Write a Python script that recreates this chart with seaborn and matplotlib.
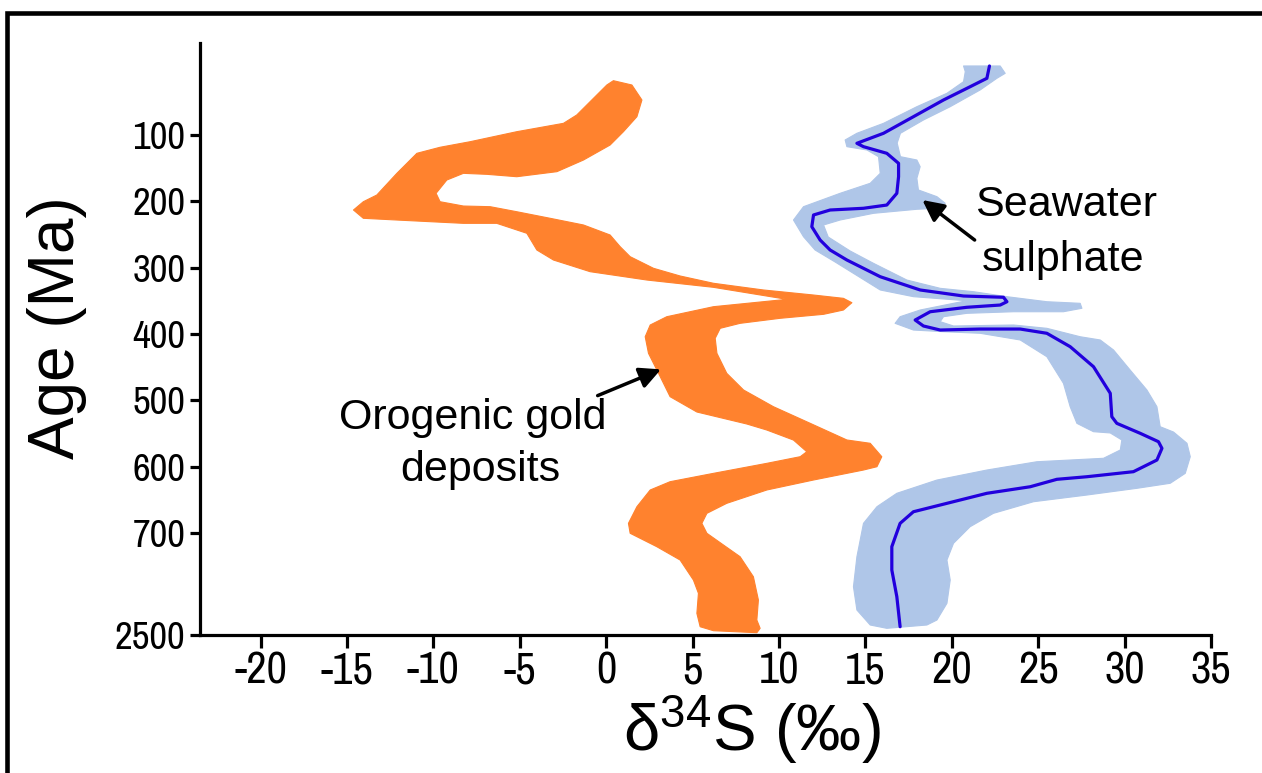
import matplotlib
matplotlib.use("Agg")
import matplotlib.pyplot as plt
from matplotlib.patches import Rectangle, Polygon
from matplotlib import font_manager as fm
import seaborn as sns

# ---------------- data ----------------
# Orogenic gold deposits band outline: (d34S permil, age position)
gold_outline = [
    (0.42, 18.1), (1.49, 24.6), (2.07, 47.2), (1.78, 72.4), (1.00, 95.0), (0.23, 115.1),
    (-1.31, 137.7), (-2.85, 155.3), (-5.17, 162.9), (-6.90, 159.3), (-8.26, 157.8),
    (-9.22, 167.9), (-9.84, 187.9), (-9.61, 200.6), (-8.26, 207.1), (-6.71, 208.1),
    (-5.17, 215.7), (-3.24, 225.6), (-1.31, 235.7), (0.23, 250.8), (0.81, 268.4),
    (1.39, 283.5), (2.74, 301.0), (4.28, 312.6), (6.21, 323.6), (9.10, 333.7),
    (12.00, 341.3), (13.73, 346.3), (14.22, 352.9), (13.73, 363.9), (12.58, 370.4),
    (10.07, 376.4), (7.75, 384.0), (6.60, 391.5), (6.31, 406.6), (6.41, 429.2),
    (6.98, 459.4), (7.95, 484.5), (9.68, 509.7), (11.81, 534.8), (13.93, 559.9),
    (15.28, 564.9), (15.95, 585.1), (15.67, 600.2), (14.89, 605.2), (11.99, 620.3),
    (9.30, 635.3), (6.98, 655.4), (5.83, 670.5), (5.54, 685.6), (5.83, 700.6),
    (6.79, 718.3), (7.75, 735.9), (8.52, 766.1), (8.81, 801.2), (8.72, 831.4),
    (8.91, 843.9), (8.72, 850.5), (6.21, 847.5), (5.44, 841.5),
    (5.25, 821.3), (5.34, 791.1), (5.05, 771.1), (4.28, 740.9), (2.93, 720.8),
    (1.39, 700.6), (1.29, 685.6), (1.78, 660.5), (2.55, 635.3), (3.70, 622.8),
    (6.21, 610.2), (9.30, 595.1), (11.23, 585.1), (11.61, 577.6), (10.84, 560.0),
    (9.30, 544.9), (8.14, 535.8), (5.25, 517.7), (3.70, 494.6), (3.13, 464.5),
    (2.45, 429.2), (2.26, 404.2), (2.55, 386.5), (3.51, 374.0), (6.21, 358.9),
    (10.46, 347.8), (6.21, 329.7), (2.36, 318.7), (-0.93, 306.1), (-3.05, 288.5),
    (-4.01, 273.4), (-4.59, 248.2), (-6.33, 233.2), (-8.26, 233.2), (-10.19, 230.7),
    (-12.11, 228.2), (-14.05, 225.6), (-14.62, 213.1), (-14.05, 200.6), (-13.27, 190.5),
    (-12.11, 157.8), (-10.95, 127.6), (-9.61, 118.5), (-7.87, 110.1), (-5.17, 95.0),
    (-2.47, 82.4), (-1.70, 69.8), (-0.93, 49.8), (0.04, 24.6),
]

# Seawater sulphate uncertainty band outline
sw_band_outline = [
    (20.68, -4.1), (22.80, -4.1), (23.09, 7.0), (22.61, 14.5), (21.64, 32.1), (19.91, 57.3),
    (18.36, 77.4), (17.03, 97.4), (16.84, 112.1), (17.03, 132.7), (17.98, 137.7),
    (18.17, 147.8), (17.98, 165.3), (18.07, 182.9), (19.14, 193.0), (19.62, 203.0),
    (19.14, 210.5), (17.98, 212.0), (15.47, 218.1), (13.54, 228.2), (12.58, 235.7),
    (12.85, 253.8), (14.12, 274.9), (15.47, 293.5), (17.40, 318.7), (19.33, 331.2),
    (21.26, 336.3), (23.19, 343.8), (25.50, 351.4), (27.43, 353.8), (27.53, 361.3),
    (26.46, 366.5), (23.57, 366.5), (20.87, 368.9), (19.52, 374.0), (19.33, 381.5),
    (20.10, 388.0), (23.57, 386.5), (25.50, 391.5), (27.43, 404.2), (28.59, 409.1),
    (29.36, 424.2), (30.32, 454.4), (31.29, 484.5), (31.87, 509.7), (32.06, 539.9),
    (32.83, 547.9), (33.61, 564.9), (33.80, 585.1), (33.51, 610.2), (32.64, 625.2),
    (30.71, 632.8), (27.82, 642.9), (24.73, 653.0), (22.41, 670.5), (21.06, 690.7),
    (20.10, 715.7), (19.72, 740.9), (19.91, 771.1), (19.72, 806.2), (19.14, 831.4),
    (18.56, 838.9), (16.24, 843.9), (15.28, 838.9), (14.51, 816.3), (14.31, 781.2),
    (14.51, 735.9), (14.89, 685.6), (15.67, 660.5), (16.82, 640.3), (19.14, 620.3),
    (22.03, 605.2), (24.92, 592.7), (28.78, 587.5), (29.75, 575.0), (29.84, 559.9),
    (29.17, 549.3), (28.20, 547.4), (27.24, 534.8), (26.85, 509.7), (26.46, 474.4),
    (25.50, 434.3), (23.96, 409.1), (21.64, 399.0), (19.52, 396.6), (17.78, 394.1),
    (16.72, 384.0), (17.01, 374.0), (18.17, 363.9), (20.10, 353.8), (20.87, 349.9),
    (17.78, 343.8), (15.86, 333.7), (13.25, 291.5), (12.09, 273.4), (11.42, 253.4),
    (10.84, 228.2), (11.42, 208.1), (13.54, 187.9), (15.28, 172.8), (15.86, 157.8),
    (15.76, 132.7), (15.09, 122.6), (13.93, 117.6), (13.83, 107.5), (14.51, 97.4),
    (16.05, 82.4), (17.98, 57.3), (19.72, 37.1), (20.68, 19.6), (20.78, 4.5),
]

# Seawater sulphate curve
sw_line_d34s = [22.18, 22.03, 21.06, 19.52, 17.78, 16.05, 14.51, 14.89, 16.24, 16.92,
                16.92, 16.82, 16.24, 14.89, 12.96, 12.00, 11.90, 12.38, 12.96, 13.93,
                15.86, 18.17, 20.68, 22.99, 23.19, 22.80, 20.87, 18.75, 17.88, 18.36,
                19.33, 21.64, 23.96, 25.50, 26.85, 28.20, 29.17, 29.26, 29.55, 30.90,
                31.96, 32.16, 31.87, 30.51, 27.82, 26.08, 24.54, 22.03, 19.72, 17.78,
                17.01, 16.53, 16.53, 16.82, 17.01]
sw_line_age = [-4.1, 14.5, 27.2, 47.2, 72.4, 97.4, 112.5, 117.6, 127.6, 142.7,
               162.9, 187.9, 205.6, 210.5, 213.1, 220.6, 238.3, 258.3, 273.4, 288.5,
               313.7, 333.7, 342.8, 344.7, 351.4, 356.4, 359.8, 366.5, 379.0, 388.0,
               394.1, 392.6, 392.6, 399.0, 419.2, 449.4, 489.5, 524.8, 534.8, 549.8,
               562.5, 572.5, 590.1, 607.7, 615.3, 619.2, 630.4, 640.3, 655.4, 668.1,
               685.6, 720.8, 756.0, 796.2, 841.5]

x_ticks = [-20, -15, -10, -5, 0, 5, 10, 15, 20, 25, 30, 35]
y_ticks = [100, 200, 300, 400, 500, 600, 700, 854]
y_tick_labels = ["100", "200", "300", "400", "500", "600", "700", "2500"]

# ---------------- style ----------------
sns.set_theme(style="ticks")
plt.rcParams["font.family"] = ["Liberation Sans", "DejaVu Sans"]
plt.rcParams["text.color"] = "black"
plt.rcParams["mathtext.fontset"] = "custom"
plt.rcParams["mathtext.rm"] = "Liberation Sans"
plt.rcParams["mathtext.it"] = "Liberation Sans:italic"

available = {f.name for f in fm.fontManager.ttflist}
NARROW = next((n for n in ["Liberation Sans Narrow", "Archivo Narrow", "Liberation Sans"]
               if n in available), "DejaVu Sans")

ORANGE = "#FF822E"
BAND = "#AFC6E8"
LINE = "#2200DD"

fig = plt.figure(figsize=(12.62, 7.73), dpi=100)
fig.patch.set_facecolor("white")
ax = fig.add_axes([0.1585, 0.1785, 0.8011, 0.7655])
ax.set_facecolor("white")

ax.add_patch(Polygon(gold_outline, closed=True, facecolor=ORANGE, edgecolor=ORANGE,
                     linewidth=0.8, joinstyle="round", zorder=2))
ax.add_patch(Polygon(sw_band_outline, closed=True, facecolor=BAND, edgecolor=BAND,
                     linewidth=0.8, joinstyle="round", zorder=2))
sns.lineplot(x=sw_line_d34s, y=sw_line_age, sort=False, estimator=None, orient="y",
             color=LINE, linewidth=2.3, ax=ax, zorder=3)

ax.set_xlim(-23.5, 35)
ax.set_ylim(854, -38.3)

for s in ["top", "right"]:
    ax.spines[s].set_visible(False)
for s in ["left", "bottom"]:
    ax.spines[s].set_linewidth(2.3)
    ax.spines[s].set_color("black")

ax.set_xticks(x_ticks)
ax.set_xticklabels([str(v) for v in x_ticks], family=NARROW, fontsize=32, color="black")
ax.set_yticks(y_ticks)
ax.set_yticklabels(y_tick_labels, family=NARROW, fontsize=28, color="black")
ax.tick_params(axis="both", direction="out", width=2.3, color="black", labelcolor="black")
ax.tick_params(axis="x", length=9, pad=3)
ax.tick_params(axis="y", length=7.5, pad=3)
ax.set_xlabel("")
ax.set_ylabel("")

fig.text(752 / 1262, 1 - 730 / 773, "δ$^{34}$S (‰)", fontsize=47, ha="center", va="center",
         color="black")
fig.text(57 / 1262, 1 - 328 / 773, "Age (Ma)", fontsize=46, rotation=90, ha="center",
         va="center", color="black")

ax.annotate("", xy=(3.32, 451.8), xytext=(-0.64, 494.6),
            arrowprops=dict(arrowstyle="-|>", color="black", lw=2.5, mutation_scale=32))
ax.text(-7.7, 526.8, "Orogenic gold", fontsize=31, ha="center", va="center", color="black")
ax.text(-7.3, 605.2, "deposits", fontsize=31, ha="center", va="center", color="black")

ax.annotate("", xy=(18.17, 195.5), xytext=(21.45, 260.9),
            arrowprops=dict(arrowstyle="-|>", color="black", lw=2.5, mutation_scale=32))
ax.text(26.6, 205.6, "Seawater", fontsize=31, ha="center", va="center", color="black")
ax.text(26.45, 288.5, "sulphate", fontsize=31, ha="center", va="center", color="black")

# outer frame of the figure
fig.patches.append(Rectangle((0.0055, -0.5), 2.0, 0.5 + 0.9838, transform=fig.transFigure,
                             fill=False, edgecolor="black", linewidth=3.3))

fig.savefig("out.png", dpi=100, facecolor="white")
